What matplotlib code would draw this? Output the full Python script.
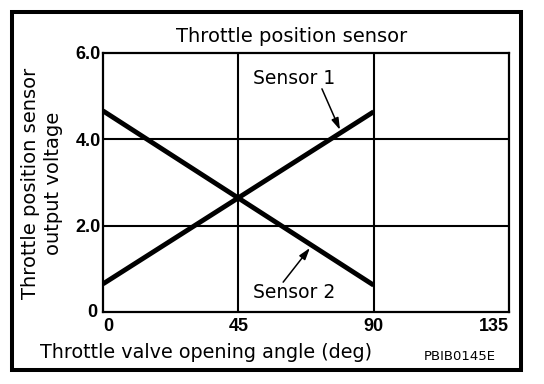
import matplotlib
matplotlib.use("Agg")
import matplotlib.pyplot as plt
from matplotlib.patches import Rectangle

plt.rcParams['font.family'] = ['DejaVu Sans']

angle = [0, 90]
sensor1 = [0.65, 4.63]
sensor2 = [4.65, 0.62]
xticks = [0, 45, 90, 135]
xticklabels = ['0', '45', '90', '135']
yticks = [2.0, 4.0, 6.0]
yticklabels = ['2.0', '4.0', '6.0']

W, H = 544, 384
fig = plt.figure(figsize=(W/100, H/100), dpi=100)
ax = fig.add_axes([103/W, 1-312/H, 406/W, 259.5/H])

for v in [45, 90]:
    ax.axvline(v, color='black', lw=1.5, zorder=1)
for v in [2.0, 4.0]:
    ax.axhline(v, color='black', lw=1.5, zorder=1)

ax.plot(angle, sensor1, color='black', lw=3.5, solid_capstyle='butt', zorder=3)
ax.plot(angle, sensor2, color='black', lw=3.5, solid_capstyle='butt', zorder=3)

ax.set_xlim(0, 135)
ax.set_ylim(0, 6.0)
tickfont = dict(family='Liberation Sans', fontweight='bold', fontsize=13)
ax.set_xticks(xticks)
ax.set_xticklabels(xticklabels, **tickfont)
ax.set_yticks(yticks)
ax.set_yticklabels(yticklabels, **tickfont)
ax.tick_params(axis='x', length=0, pad=4)
ax.tick_params(axis='y', length=0, pad=1.5)
for s in ax.spines.values():
    s.set_linewidth(1.6)
xl = ax.get_xticklabels()
xl[0].set_horizontalalignment('left')
xl[-1].set_horizontalalignment('right')

ax.text(-2.0, -0.02, '0', ha='right', va='center', **tickfont)

arrow = dict(arrowstyle='-|>,head_length=0.7,head_width=0.22', color='black', lw=1.1,
             shrinkA=0, shrinkB=0)
ax.text(63.7, 5.41, 'Sensor 1', ha='center', va='center', fontsize=13.5)
ax.annotate('', xy=(78.8, 4.21), xytext=(72.8, 5.16), arrowprops=arrow)
ax.text(63.4, 0.46, 'Sensor 2', ha='center', va='center', fontsize=13.5)
ax.annotate('', xy=(68.8, 1.48), xytext=(59.9, 0.69), arrowprops=arrow)

fig.text(292/W, 1-36/H, 'Throttle position sensor', ha='center', va='center', fontsize=14)
fig.text(206/W, 1-352/H, 'Throttle valve opening angle (deg)', ha='center', va='center', fontsize=13.8)
fig.text(42/W, 1-183/H, 'Throttle position sensor\noutput voltage', ha='center', va='center',
         rotation=90, fontsize=14, linespacing=1.25)
fig.text(460/W, 1-356/H, 'PBIB0145E', ha='center', va='center', fontsize=9.5)

fig.patches.append(Rectangle((11.5/W, 1-370/H), 509.5/W, 358/H, transform=fig.transFigure,
                             fill=False, edgecolor='black', lw=2.9))

fig.savefig('out.png', dpi=100, facecolor='white')
